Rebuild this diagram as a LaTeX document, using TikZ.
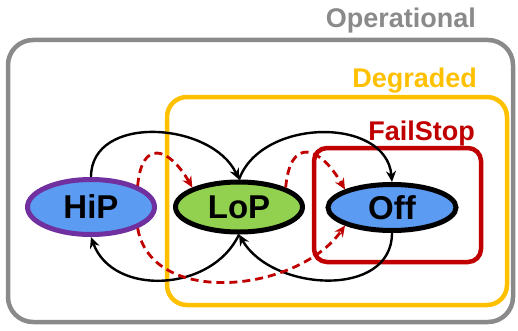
\documentclass[tikz,border=0pt]{standalone}
\usepackage{fontspec}
\setmainfont{Liberation Sans}
\usetikzlibrary{shapes.geometric,arrows.meta}
\definecolor{opgray}{HTML}{8A8A8A}
\definecolor{degor}{HTML}{FFC000}
\definecolor{fsred}{HTML}{C00000}
\definecolor{stblue}{HTML}{5B9BF2}
\definecolor{stgreen}{HTML}{92D050}
\definecolor{stpurple}{HTML}{7030A0}
\tikzset{
  region/.style={line width=4.5pt,rounded corners=#1},
  regionlabel/.style={anchor=base east,font=\bfseries\fontsize{27}{27}\selectfont,inner sep=0pt},
  state/.style={ellipse,inner sep=0pt,line width=5pt,font=\bfseries\fontsize{33}{33}\selectfont},
  normal/.style={line width=2.4pt,-{Stealth[length=11pt,width=10pt]}},
  failure/.style={line width=2.8pt,fsred,dash pattern=on 8pt off 5pt,-{Stealth[length=11pt,width=10pt]}},
}
\begin{document}
\begin{tikzpicture}[x=1pt,y=1pt]
\useasboundingbox (0,0) rectangle (518,330);
% regions
\draw[region=25pt,opgray] (8,8) rectangle (513,290);
\node[regionlabel,text=opgray] (oplabel) at (476,302) {Operational};
\draw[region=20pt,degor] (167,25) rectangle (507,233);
\node[regionlabel,text=degor] (deglabel) at (477,243) {Degraded};
\draw[region=13pt,fsred] (314,68) rectangle (481,182);
\node[regionlabel,text=fsred] (fslabel) at (475,190) {FailStop};
% states
\node[state,draw=stpurple,fill=stblue,minimum width=127pt,minimum height=55pt] (hip) at (91,123) {HiP};
\node[state,draw=black,fill=stgreen,minimum width=127pt,minimum height=50pt] (lop) at (239,123) {LoP};
\node[state,draw=black,fill=stblue,minimum width=128pt,minimum height=46pt] (off) at (392,122.5) {Off};
% normal transitions
\draw[normal] (hip.north) to[out=90,in=115,looseness=1.1] (lop.north);
\draw[normal] (lop.north) to[out=70,in=95,looseness=1.1] (off.north);
\draw[normal] (off.south) to[out=-90,in=-60,looseness=1.1] (lop.south);
\draw[normal] (lop.south) to[out=-115,in=-70,looseness=1.1] (hip.south);
% failure transitions
\draw[failure] (hip.north east) to[out=85,in=120,looseness=2.2] (lop.north west);
\draw[failure] (lop.north east) to[out=85,in=120,looseness=2.2] (off.north west);
\draw[failure] (hip.south east) to[out=-80,in=-125,looseness=1.0] (off.south west);
\end{tikzpicture}
\end{document}
